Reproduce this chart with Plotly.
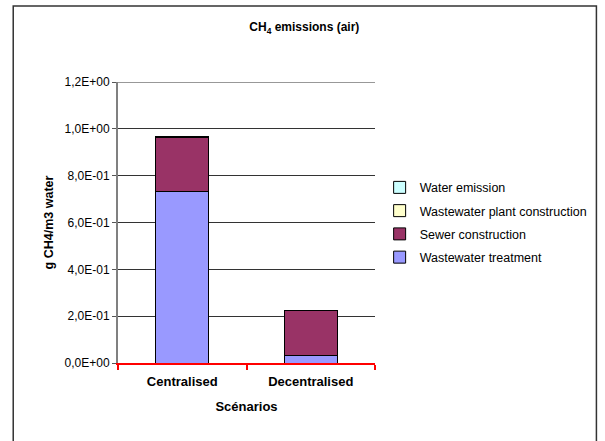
import plotly.graph_objects as go

# Scenarios and CH4 emissions (g CH4 per m3 water), by source
scenarios = ["Centralised", "Decentralised"]
wastewater_treatment = [0.732, 0.034]
sewer_construction = [0.231, 0.190]
plant_construction = [0.004, 0.0006]
water_emission = [0.002, 0.0003]

y_tick_values = [0.0, 0.2, 0.4, 0.6, 0.8, 1.0, 1.2]
y_tick_labels = ["0,0E+00", "2,0E-01", "4,0E-01", "6,0E-01", "8,0E-01", "1,0E+00", "1,2E+00"]

series = [
    ("Wastewater treatment", wastewater_treatment, "#9999FF"),
    ("Sewer construction", sewer_construction, "#993366"),
    ("Wastewater plant construction", plant_construction, "#FFFFCC"),
    ("Water emission", water_emission, "#CCFFFF"),
]

FONT = "Liberation Sans, Arial, sans-serif"
GRID = "#333333"

fig = go.Figure()
for i, (name, vals, color) in enumerate(series):
    fig.add_trace(go.Bar(
        x=scenarios, y=vals, name=name,
        marker=dict(color=color, line=dict(color="#000000", width=1)),
        legendgroup=f"g{i}",
        legendrank=1000 - i,
    ))

fig.update_layout(
    width=605, height=441,
    margin=dict(l=118, r=227, t=82, b=78),
    barmode="stack",
    bargap=0.59,
    paper_bgcolor="white",
    plot_bgcolor="white",
    font=dict(family=FONT, color="#000000", size=12),
    title=dict(
        text="<b>CH<sub>4</sub> emissions (air)</b>",
        xref="container", x=0.503, xanchor="center",
        yref="container", y=1 - 27 / 441, yanchor="middle",
        font=dict(family=FONT, size=12, color="#000000"),
    ),
    legend=dict(
        x=1.018, y=0.677, xanchor="left", yanchor="top",
        traceorder="grouped",
        tracegroupgap=4,
        font=dict(family=FONT, size=12.5, color="#000000"),
        bgcolor="rgba(0,0,0,0)",
        itemwidth=30,
    ),
    xaxis=dict(
        showline=True, linecolor="#FF0000", linewidth=2,
        ticks="outside", tickson="boundaries", tickcolor="#FF0000",
        tickwidth=2, ticklen=5,
        tickfont=dict(family=FONT, size=13, color="#000000"),
        ticklabelstandoff=5,
        title=dict(text="<b>Scénarios</b>", standoff=14,
                   font=dict(family=FONT, size=13, color="#000000")),
        showgrid=False, zeroline=False,
    ),
    yaxis=dict(
        range=[0, 1.2],
        tickvals=y_tick_values, ticktext=y_tick_labels,
        showline=True, linecolor="#808080", linewidth=2,
        ticks="outside", ticklen=4, tickcolor="#555555",
        tickfont=dict(family=FONT, size=12, color="#000000"),
        showgrid=True, gridcolor=GRID, gridwidth=1,
        zeroline=False,
        title=dict(text="<b>g CH4/m3 water</b>", standoff=8,
                   font=dict(family=FONT, size=12.5, color="#000000")),
    ),
    shapes=[
        # outer chart frame
        dict(
            type="rect", xref="paper", yref="paper",
            x0=(12 - 118) / 260, x1=(602 - 118) / 260,
            y0=(363 - 460) / 281, y1=(363 - 6) / 281,
            line=dict(color="#333333", width=1.5),
            fillcolor="rgba(0,0,0,0)", layer="below",
        ),
        # gridline at the top of the value range
        dict(
            type="line", xref="paper", yref="y",
            x0=0, x1=1, y0=y_tick_values[-1], y1=y_tick_values[-1],
            line=dict(color=GRID, width=1), layer="below",
        ),
    ],
)

# Bold category labels
fig.update_xaxes(ticktext=[f"<b>{s}</b>" for s in scenarios], tickvals=scenarios)

fig.write_html("out.html")
